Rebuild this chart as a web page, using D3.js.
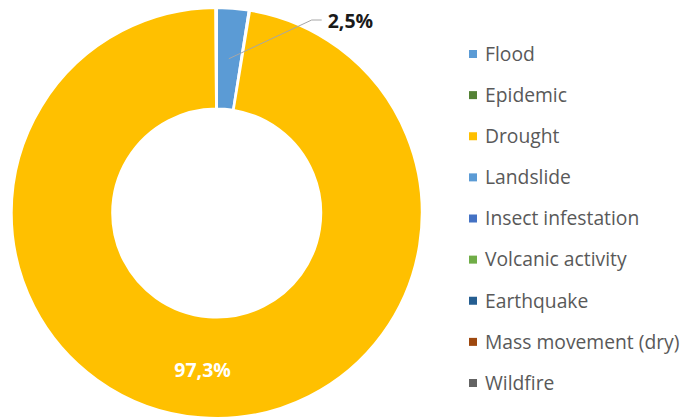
<!DOCTYPE html>
<html>
<head>
<meta charset="utf-8">
<script src="https://cdn.jsdelivr.net/npm/d3@7"></script>
<style>
  html, body { margin: 0; padding: 0; background: #fff; }
  svg { display: block; }
</style>
</head>
<body>
<svg id="chart" width="680" height="418"></svg>
<script>
const categories = ["Flood", "Epidemic", "Drought", "Landslide", "Insect infestation",
  "Volcanic activity", "Earthquake", "Mass movement (dry)", "Wildfire"];
const values = [2.5, 0.1, 97.3, 0.05, 0.02, 0.01, 0.01, 0.005, 0.005];
const colors = ["#5B9BD5", "#548235", "#FFC000", "#5B9BD5", "#4472C4",
  "#70AD47", "#255E91", "#9E480E", "#636363"];
const shownLabels = {"Flood": "2,5%", "Drought": "97,3%"};

const svg = d3.select("#chart");
const cx = 216.7, cy = 213, outerR = 205, innerR = 104.5;
const FONT = "'Open Sans', sans-serif";

const data = categories.map((c, i) => ({name: c, value: values[i], color: colors[i]}));

const pie = d3.pie().value(d => d.value).sort(null);
const arc = d3.arc().innerRadius(innerR).outerRadius(outerR);
const arcs = pie(data);

const g = svg.append("g").attr("transform", `translate(${cx},${cy})`);

g.selectAll("path.slice")
  .data(arcs)
  .enter().append("path")
  .attr("class", "slice")
  .attr("d", arc)
  .attr("fill", d => d.data.color)
  .attr("stroke", "#fff")
  .attr("stroke-width", 2)
  .attr("stroke-linejoin", "round");

// Flood label with leader line
const flood = arcs.find(a => a.data.name === "Flood");
const fc = arc.centroid(flood);
const elbow = [95, -193];
const lineEnd = [105, -193];
g.append("polyline")
  .attr("points", [fc, elbow, lineEnd].map(p => p.join(",")).join(" "))
  .attr("fill", "none")
  .attr("stroke", "#A6A6A6")
  .attr("stroke-width", 1);
g.append("text")
  .attr("x", lineEnd[0] + 6)
  .attr("y", lineEnd[1] + 1)
  .attr("dy", "0.35em")
  .attr("font-family", FONT)
  .attr("font-weight", "bold")
  .attr("font-size", 19.5)
  .attr("fill", "#1a1a1a")
  .text(shownLabels["Flood"]);

// Drought label at centroid
const drought = arcs.find(a => a.data.name === "Drought");
const dc = arc.centroid(drought);
g.append("text")
  .attr("x", dc[0] - 2)
  .attr("y", dc[1] + 3)
  .attr("dy", "0.35em")
  .attr("text-anchor", "middle")
  .attr("font-family", FONT)
  .attr("font-weight", "bold")
  .attr("font-size", 19.5)
  .attr("fill", "#fff")
  .text(shownLabels["Drought"]);

// Legend
const legendY = d3.scalePoint().domain(categories).range([54, 383]);
const legend = svg.append("g");
const items = legend.selectAll("g.item").data(data).enter().append("g")
  .attr("class", "item")
  .attr("transform", d => `translate(469,${legendY(d.name)})`);
items.append("rect")
  .attr("x", 0).attr("y", -4)
  .attr("width", 8).attr("height", 8)
  .attr("fill", d => d.color);
items.append("text")
  .attr("x", 16)
  .attr("y", 0)
  .attr("dy", "0.35em")
  .attr("font-family", FONT)
  .attr("font-size", 19.3)
  .attr("fill", "#595959")
  .text(d => d.name);
</script>
</body>
</html>
